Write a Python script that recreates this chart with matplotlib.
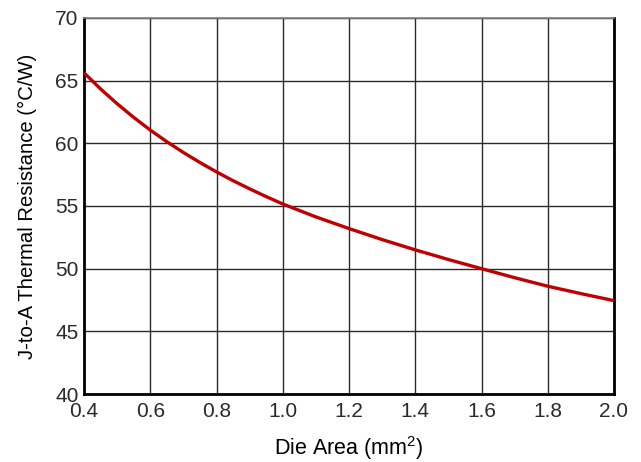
import matplotlib
matplotlib.use("Agg")
import matplotlib.pyplot as plt

die_area = [0.4, 0.45, 0.5, 0.55, 0.6, 0.65, 0.7, 0.75, 0.8, 0.85, 0.9, 0.95, 1.0,
            1.1, 1.2, 1.3, 1.4, 1.5, 1.6, 1.7, 1.8, 1.9, 2.0]
theta_ja = [65.63, 64.34, 63.16, 62.07, 61.06, 60.13, 59.27, 58.47, 57.72, 57.02, 56.37, 55.75, 55.16,
            54.13, 53.2, 52.32, 51.5, 50.73, 50.0, 49.28, 48.6, 48.01, 47.45]
x_ticks = [0.4, 0.6, 0.8, 1.0, 1.2, 1.4, 1.6, 1.8, 2.0]
x_tick_labels = ["0.4", "0.6", "0.8", "1.0", "1.2", "1.4", "1.6", "1.8", "2.0"]
y_ticks = [40, 45, 50, 55, 60, 65, 70]

plt.rcParams['font.family'] = ['Liberation Sans', 'DejaVu Sans']
plt.rcParams['mathtext.fontset'] = 'custom'
plt.rcParams['mathtext.rm'] = 'Liberation Sans'
plt.rcParams['mathtext.it'] = 'Liberation Sans'
plt.rcParams['mathtext.bf'] = 'Liberation Sans'

fig = plt.figure(figsize=(6.41, 4.62), dpi=100)
ax = fig.add_axes([84/641, 1 - 394/462, (614-84)/641, (394-18)/462])

ax.plot(die_area, theta_ja, color='#c00000', lw=2.4, solid_capstyle='butt',
        solid_joinstyle='round', zorder=3)

ax.set_xlim(0.4, 2.0)
ax.set_ylim(40, 70)
ax.set_xticks(x_ticks)
ax.set_xticklabels(x_tick_labels)
ax.set_yticks(y_ticks)
ax.grid(True, color='#2a2a2a', lw=1.0)
ax.set_axisbelow(True)

for s in ['left', 'bottom', 'right']:
    ax.spines[s].set_linewidth(2.0)
    ax.spines[s].set_color('black')
ax.spines['top'].set_linewidth(1.2)
ax.spines['top'].set_color('#808080')

ax.tick_params(axis='both', length=0, labelsize=15, colors='#2a2a2a')
ax.tick_params(axis='x', pad=6)
ax.tick_params(axis='y', pad=4)
ax.set_xlabel('Die Area (mm$\\mathregular{^2}$)', fontsize=15.5, labelpad=9)
ax.set_ylabel('J-to-A Thermal Resistance (°C/W)', fontsize=14.6, labelpad=13)

fig.savefig('out.png', dpi=100)
